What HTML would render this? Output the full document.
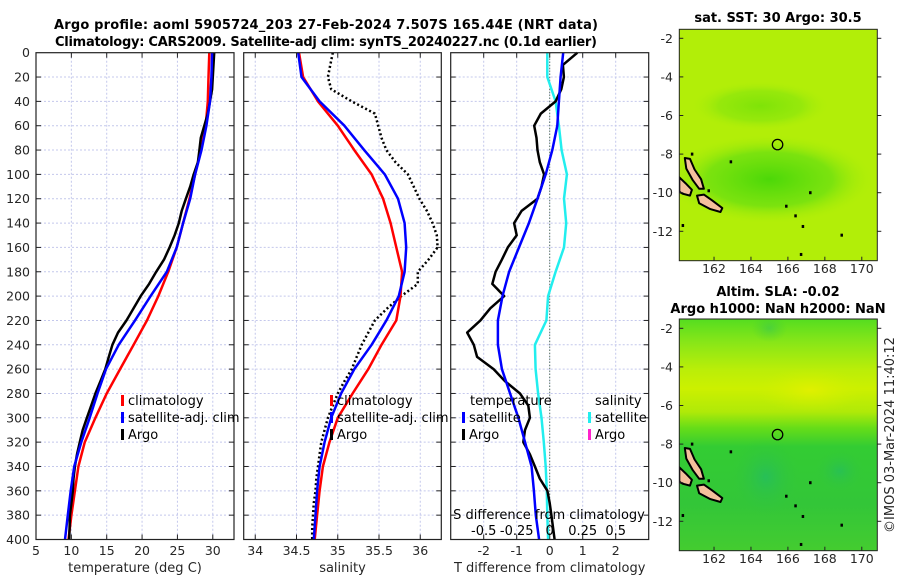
<!DOCTYPE html>
<html><head><meta charset="utf-8"><style>
html,body{margin:0;padding:0;background:#fff;}
svg{display:block;font-family:"DejaVu Sans","Liberation Sans",sans-serif;}
.tk{font-size:12.5px;fill:#262626;}
.tt{font-size:13px;font-weight:bold;fill:#000;}
.lg{font-size:13px;fill:#000;}
</style></head><body>
<svg id="fig" width="900" height="580" viewBox="0 0 900 580" xmlns="http://www.w3.org/2000/svg">
<defs>
<radialGradient id="sstBlob" cx="0.5" cy="0.5" r="0.5">
<stop offset="0" stop-color="#4cd808"/><stop offset="0.6" stop-color="#6ee010" stop-opacity="0.8"/><stop offset="1" stop-color="#b0ee08" stop-opacity="0"/>
</radialGradient>
<linearGradient id="slaGrad" x1="0" y1="0" x2="0" y2="1">
<stop offset="0" stop-color="#55dd20"/><stop offset="0.1" stop-color="#88e618"/><stop offset="0.22" stop-color="#bbee08"/><stop offset="0.3" stop-color="#ccf000"/><stop offset="0.4" stop-color="#b0ea08"/><stop offset="0.47" stop-color="#66dd18"/><stop offset="0.55" stop-color="#33cc33"/><stop offset="0.8" stop-color="#33c638"/><stop offset="1" stop-color="#44cc30"/>
</linearGradient>
<radialGradient id="tealBlob" cx="0.5" cy="0.5" r="0.5">
<stop offset="0" stop-color="#22bb66"/><stop offset="1" stop-color="#33c638" stop-opacity="0"/>
</radialGradient>
<radialGradient id="yelBlob" cx="0.5" cy="0.5" r="0.5">
<stop offset="0" stop-color="#e0f000"/><stop offset="1" stop-color="#ccf000" stop-opacity="0"/>
</radialGradient>
</defs>
<text class="tt" x="326" y="29" text-anchor="middle" textLength="544">Argo profile: aoml 5905724_203 27-Feb-2024 7.507S 165.44E (NRT data)</text>
<text class="tt" x="326" y="46" text-anchor="middle" textLength="542">Climatology: CARS2009. Satellite-adj clim: synTS_20240227.nc (0.1d earlier)</text>
<text class="tt" x="778" y="22" text-anchor="middle">sat. SST: 30 Argo: 30.5</text>
<text class="tt" x="778" y="296" text-anchor="middle">Altim. SLA: -0.02</text>
<text class="tt" x="778" y="313" text-anchor="middle">Argo h1000: NaN h2000: NaN</text>
<text class="tk" transform="translate(894,435) rotate(-90)" text-anchor="middle" style="font-size:13px">©IMOS 03-Mar-2024 11:40:12</text>
</svg>
<script>
// ---- data ----
const depths20 = [0,20,40,60,80,100,120,140,160,180,200,220,240,260,280,300,320,340,360,380,400];
const depths10 = [0,10,20,30,40,50,60,70,80,90,100,110,120,130,140,150,160,170,180,190,200,210,220,230,240,250,260,270,280,290,300,310,320,330,340,350,360,370,380,390,400];
const tempClim = [29.5,29.4,29.3,29.0,28.3,27.5,26.7,25.8,24.9,23.7,22.3,20.7,18.8,16.9,15.0,13.4,11.9,11.0,10.5,10.0,9.6];
const tempSat  = [29.9,29.8,29.6,29.1,28.4,27.5,26.8,25.8,24.9,23.5,21.2,19.0,16.7,14.9,13.7,12.6,11.4,10.4,9.9,9.5,9.1];
const tempArgo = [30.2,30.1,30.0,29.9,29.6,29.3,28.8,28.3,28.1,27.9,27.3,26.8,26.2,25.6,25.2,24.6,23.9,23.1,22.0,21.0,19.8,18.8,17.8,16.6,15.8,15.3,14.8,14.1,13.4,12.8,12.2,11.6,11.2,10.8,10.5,10.3,10.2,10.0,9.8,9.75,9.7];
const salClim = [34.53,34.58,34.76,35.0,35.2,35.41,35.55,35.64,35.71,35.78,35.76,35.71,35.53,35.37,35.18,35.0,34.9,34.82,34.78,34.75,34.72];
const salSat  = [34.52,34.56,34.78,35.08,35.32,35.57,35.73,35.81,35.83,35.81,35.74,35.59,35.41,35.2,35.04,34.92,34.84,34.78,34.75,34.73,34.71];
const salArgo = [34.94,34.91,34.88,34.92,35.17,35.45,35.49,35.53,35.59,35.7,35.85,35.92,35.99,36.08,36.15,36.2,36.21,36.1,35.97,35.97,35.77,35.6,35.45,35.37,35.29,35.23,35.17,35.08,35.0,34.94,34.88,34.84,34.80,34.78,34.76,34.74,34.73,34.71,34.70,34.69,34.69];
const tDiffSat  = [0.41,0.33,0.28,0.23,0.08,-0.12,-0.37,-0.63,-0.93,-1.23,-1.43,-1.57,-1.57,-1.45,-1.2,-0.95,-0.75,-0.55,-0.48,-0.42,-0.32];
const sDiffSat  = [-0.018,-0.018,0.045,0.07,0.09,0.13,0.108,0.125,0.108,0.045,-0.012,-0.025,-0.112,-0.107,-0.088,-0.062,-0.045,-0.03,-0.022,-0.018,-0.012];
const tDiffArgo = [0.84,0.4,0.43,0.35,0.18,-0.27,-0.47,-0.4,-0.37,-0.3,-0.17,-0.25,-0.37,-0.85,-1.08,-1.0,-1.27,-1.45,-1.64,-1.74,-1.38,-1.8,-2.1,-2.5,-2.3,-2.2,-1.7,-1.35,-0.9,-0.65,-0.6,-0.75,-0.8,-0.6,-0.45,-0.3,-0.07,0.0,0.05,0.1,0.15];
const depthTicks = [0,20,40,60,80,100,120,140,160,180,200,220,240,260,280,300,320,340,360,380,400];
const tempTicks = [5,10,15,20,25,30];
const salTicks = [34,34.5,35,35.5,36];
const salTickLabels = ["34","34.5","35","35.5","36"];
const tdTicks = [-2,-1,0,1,2];
const sdTicks = [-0.5,-0.25,0,0.25,0.5];
const sdTickLabels = ["-0.5","-0.25","0","0.25","0.5"];
const lonTicks = [162,164,166,168,170];
const latTicks = [-2,-4,-6,-8,-10,-12];
const argoLon = 165.44, argoLat = -7.507;

// ---- helpers ----
const NS = "http://www.w3.org/2000/svg";
const svg = document.getElementById('fig');
function mk(tag, attrs, parent){
  const e = document.createElementNS(NS, tag);
  for (const k in attrs) e.setAttribute(k, attrs[k]);
  (parent||svg).appendChild(e);
  return e;
}
const Y0 = 52.7, Y1 = 539.5;
const yD = d => Y0 + (d/400)*(Y1-Y0);
function lin(d0,d1,r0,r1){ return v => r0 + (v-d0)/(d1-d0)*(r1-r0); }

const panels = [
  {name:'temperature-panel', x0:36, x1:234, dom:[5,33], ticks:tempTicks, labels:tempTicks.map(String), title:'temperature (deg C)'},
  {name:'salinity-panel', x0:243.7, x1:441.3, dom:[33.86,36.255], ticks:salTicks, labels:salTickLabels, title:'salinity'},
  {name:'difference-panel', x0:450.7, x1:648.7, dom:[-3,3], ticks:tdTicks, labels:tdTicks.map(String), title:'T difference from climatology'}
];
panels.forEach((p,i)=>{
  p.sx = lin(p.dom[0], p.dom[1], p.x0, p.x1);
  const g = mk('g', {});
  
  
  p.g = g;
  p.ticks.forEach(t=>{
    const l = mk('line',{x1:p.sx(t),x2:p.sx(t),y1:Y0,y2:Y1,stroke:'#c4c8ec','stroke-width':1,'stroke-dasharray':'2,2'}, g);
    
    
  });
  depthTicks.forEach(d=>{
    if(d===0||d===400) return;
    const l = mk('line',{x1:p.x0,x2:p.x1,y1:yD(d),y2:yD(d),stroke:'#c4c8ec','stroke-width':1,'stroke-dasharray':'2,2'}, g);
    
    
    mk('line',{x1:p.x0,x2:p.x0+5,y1:yD(d),y2:yD(d),stroke:'#222'}, g);
    mk('line',{x1:p.x1-5,x2:p.x1,y1:yD(d),y2:yD(d),stroke:'#222'}, g);
  });
  p.ticks.forEach(t=>{
    mk('line',{x1:p.sx(t),x2:p.sx(t),y1:Y0,y2:Y0+5,stroke:'#222'}, g);
    mk('line',{x1:p.sx(t),x2:p.sx(t),y1:Y1-5,y2:Y1,stroke:'#222'}, g);
  });
  p.ticks.forEach((t,j)=>{
    const tx = mk('text',{x:p.sx(t),y:555,'text-anchor':'middle',class:'tk'}, g);
    tx.textContent = p.labels[j];
    
    
  });
  const at = mk('text',{x:(p.x0+p.x1)/2,y:572,'text-anchor':'middle',class:'tk',style:'font-size:13px'}, g);
  at.textContent = p.title;
  
  
});
depthTicks.forEach(d=>{
  const t = mk('text',{x:30,y:yD(d)+4.5,'text-anchor':'end',class:'tk'});
  t.textContent = String(d);
  
  
});

function line(p, xs, ds, color, w, dash, name){
  const pts = xs.map((v,i)=>p.sx(v).toFixed(1)+','+yD(ds[i]).toFixed(1)).join(' ');
  const a = {points:pts,fill:'none',stroke:color,'stroke-width':w,'stroke-linejoin':'round'};
  if(dash) a['stroke-dasharray']=dash;
  const e = mk('polyline', a, p.g);
  
  
  return e;
}
const P1=panels[0], P2=panels[1], P3=panels[2];
line(P1, tempClim, depths20, '#ff0000', 2.5, null, 'temp-climatology-line');
line(P1, tempArgo, depths10, '#000000', 2.5, null, 'temp-argo-line');
line(P1, tempSat, depths20, '#0000ff', 2.5, null, 'temp-satellite-line');
line(P2, salArgo, depths10, '#000000', 2.5, '2,2.5', 'sal-argo-line');
line(P2, salClim, depths20, '#ff0000', 2.5, null, 'sal-climatology-line');
line(P2, salSat, depths20, '#0000ff', 2.5, null, 'sal-satellite-line');
const zl = mk('line',{x1:P3.sx(0),x2:P3.sx(0),y1:Y0,y2:Y1,stroke:'#335533','stroke-width':1,'stroke-dasharray':'1,2'}, P3.g);


line(P3, sDiffSat.map(s=>s*4), depths20, '#22eeee', 2.5, null, 'sdiff-satellite-line');
line(P3, tDiffArgo, depths10, '#000000', 2.5, null, 'tdiff-argo-line');
line(P3, tDiffSat, depths20, '#0000ff', 2.5, null, 'tdiff-satellite-line');
const sl = mk('text',{x:549,y:519,'text-anchor':'middle',class:'lg'}, P3.g);
sl.textContent = 'S difference from climatology';


sdTicks.forEach((s,j)=>{
  const t = mk('text',{x:P3.sx(s*4),y:535,'text-anchor':'middle',class:'lg'}, P3.g);
  t.textContent = sdTickLabels[j];
  
  
});
panels.forEach(p=>{
  const r = mk('rect',{x:p.x0,y:Y0,width:p.x1-p.x0,height:Y1-Y0,fill:'none',stroke:'#222','stroke-width':1.2}, p.g);
  
  
});
function legend(x, y, color, label, name){
  const g = mk('g',{});
  
  
  mk('rect',{x:x,y:y-10,width:3,height:11,fill:color}, g);
  const t = mk('text',{x:x+7,y:y,class:'lg'}, g);
  t.textContent = label;
}
legend(121,405,'#ff0000','climatology','legend-temp-climatology');
legend(121,422,'#0000ff','satellite-adj. clim','legend-temp-satellite');
legend(121,439,'#000000','Argo','legend-temp-argo');
legend(330,405,'#ff0000','climatology','legend-sal-climatology');
legend(330,422,'#0000ff','satellite-adj. clim','legend-sal-satellite');
legend(330,439,'#000000','Argo','legend-sal-argo');
const lt1 = mk('text',{x:470,y:405,class:'lg'}); lt1.textContent='temperature';


legend(462,422,'#0000ff','satellite','legend-tdiff-satellite');
legend(462,439,'#000000','Argo','legend-tdiff-argo');
const lt2 = mk('text',{x:595,y:405,class:'lg'}); lt2.textContent='salinity';


legend(588,422,'#22eeee','satellite','legend-sdiff-satellite');
legend(588,439,'#ff22cc','Argo','legend-sdiff-argo');

// ---- maps ----
const MX0=679.3, MX1=877.3;
const lonX = lin(160.12,170.84,MX0,MX1);
const islands = [
  [[160.42,-8.2],[160.7,-8.25],[160.95,-8.8],[161.3,-9.3],[161.45,-9.8],[161.2,-9.8],[160.85,-9.35],[160.5,-8.75]],
  [[161.08,-10.15],[161.45,-10.1],[161.9,-10.4],[162.45,-10.8],[162.35,-11.0],[161.8,-10.85],[161.2,-10.55]],
  [[160.12,-9.2],[160.45,-9.5],[160.8,-9.85],[160.7,-10.15],[160.3,-10.05],[160.12,-9.95]]
];
const dots = [[160.8,-8.0],[165.9,-10.7],[166.4,-11.2],[166.8,-11.75],[160.3,-11.7],[166.7,-13.2],[167.2,-10.0],[168.9,-12.2],[162.9,-8.4],[161.7,-9.9]];
function drawMap(name, top, bottom, latAt2, bg, tickY){
  const g = mk('g',{});
  
  
  const latY = lat => latAt2 + (-2-lat)*19.3;
  const clipId = name+'-clip';
  const cp = mk('clipPath',{id:clipId}, g);
  mk('rect',{x:MX0,y:top,width:MX1-MX0,height:bottom-top}, cp);
  const inner = mk('g',{'clip-path':'url(#'+clipId+')'}, g);
  bg(inner, latY);
  islands.forEach(poly=>{
    const pts = poly.map(p=>lonX(p[0]).toFixed(1)+','+latY(p[1]).toFixed(1)).join(' ');
    const e = mk('polygon',{points:pts,fill:'#f4bf9c',stroke:'#000','stroke-width':2,'stroke-linejoin':'round'}, inner);
    
    
  });
  dots.forEach(d=>{ mk('rect',{x:lonX(d[0])-1,y:latY(d[1])-1.5,width:2.5,height:3,fill:'#000'}, inner); });
  const c = mk('circle',{cx:lonX(argoLon),cy:latY(argoLat),r:5.2,fill:'none',stroke:'#000','stroke-width':1.3}, g);
  
  
  mk('rect',{x:MX0,y:top,width:MX1-MX0,height:bottom-top,fill:'none',stroke:'#222','stroke-width':1}, g);
  lonTicks.forEach(l=>{
    mk('line',{x1:lonX(l),x2:lonX(l),y1:bottom,y2:bottom-4,stroke:'#222'}, g);
    const t = mk('text',{x:lonX(l),y:tickY,'text-anchor':'middle',class:'tk'}, g);
    t.textContent = String(l);
    
    
  });
  latTicks.forEach(l=>{
    mk('line',{x1:MX0,x2:MX0+4,y1:latY(l),y2:latY(l),stroke:'#222'}, g);
    mk('line',{x1:MX1,x2:MX1+4,y1:latY(l),y2:latY(l),stroke:'#222'}, g);
    const t = mk('text',{x:673,y:latY(l)+4.5,'text-anchor':'end',class:'tk'}, g);
    t.textContent = String(l);
    
    
  });
}
drawMap('sst-map', 29.3, 260.7, 38.3, (g, latY)=>{
  mk('rect',{x:MX0,y:29.3,width:MX1-MX0,height:232,fill:'#b2ee08'}, g);
  mk('ellipse',{cx:lonX(165.0),cy:latY(-9.3),rx:105,ry:45,fill:'url(#sstBlob)'}, g);
  mk('ellipse',{cx:lonX(164.5),cy:latY(-5.5),rx:70,ry:25,fill:'url(#sstBlob)',opacity:0.5}, g);
}, 273);
drawMap('sla-map', 319, 550.7, 328.3, (g, latY)=>{
  mk('rect',{x:MX0,y:319,width:MX1-MX0,height:232,fill:'url(#slaGrad)'}, g);
  mk('ellipse',{cx:lonX(167.2),cy:latY(-5.2),rx:55,ry:22,fill:'url(#yelBlob)'}, g);
  mk('ellipse',{cx:lonX(164.8),cy:latY(-9.7),rx:35,ry:40,fill:'url(#tealBlob)',opacity:0.7}, g);
  mk('ellipse',{cx:lonX(168.8),cy:latY(-9.4),rx:25,ry:22,fill:'url(#tealBlob)',opacity:0.6}, g);
  mk('ellipse',{cx:lonX(165.0),cy:latY(-2),rx:18,ry:14,fill:'url(#tealBlob)',opacity:0.4}, g);
}, 563);
</script>
</body></html>
